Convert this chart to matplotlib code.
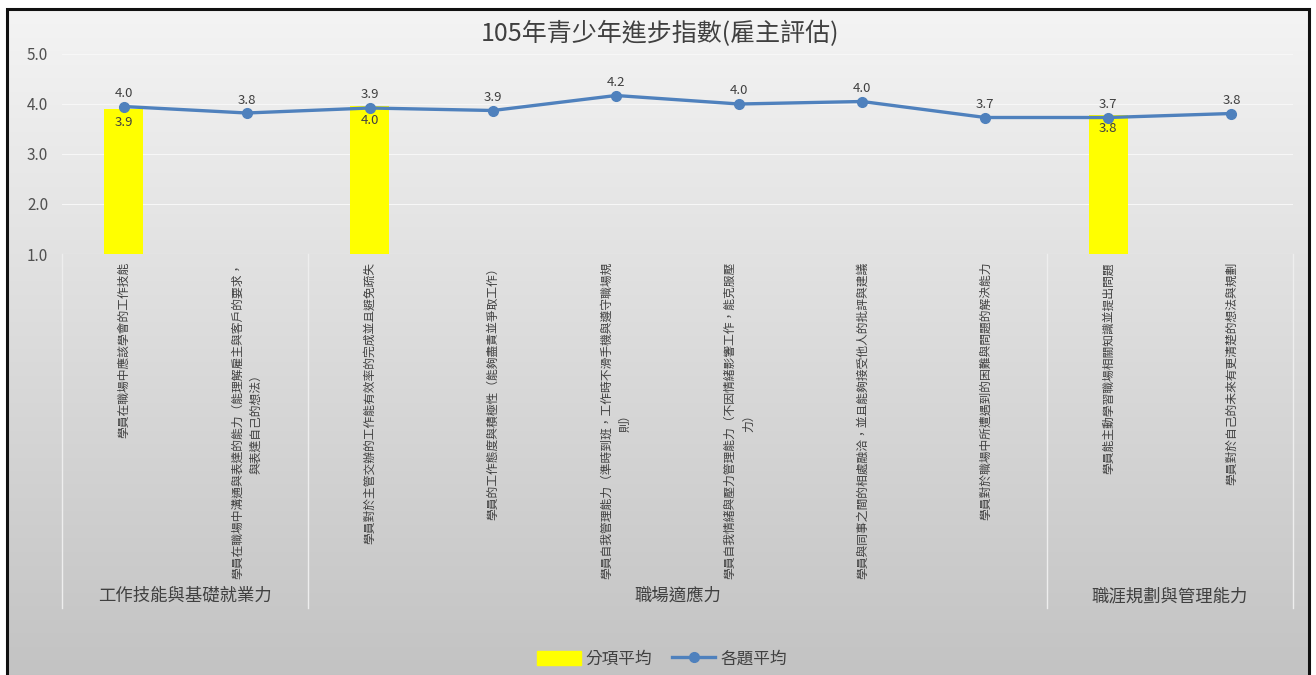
import matplotlib
matplotlib.use("Agg")
import matplotlib.pyplot as plt
import numpy as np
from matplotlib.patches import Rectangle
from matplotlib.lines import Line2D
from matplotlib.patches import Patch

plt.rcParams['font.family'] = ['Noto Sans CJK TC', 'DejaVu Sans']

# data
title = '105年青少年進步指數(雇主評估)'
items = [
    '學員在職場中應該學會的工作技能',
    '學員在職場中溝通與表達的能力（能理解雇主與客戶的要求，\n與表達自己的想法）',
    '學員對於主管交辦的工作能有效率的完成並且避免疏失',
    '學員的工作態度與積極性（能夠盡責並爭取工作）',
    '學員自我管理能力（準時到班，工作時不滑手機與遵守職場規\n則）',
    '學員自我情緒與壓力管理能力（不因情緒影響工作，能克服壓\n力）',
    '學員與同事之間的相處融洽，並且能夠接受他人的批評與建議',
    '學員對於職場中所遭遇到的困難與問題的解決能力',
    '學員能主動學習職場相關知識並提出問題',
    '學員對於自己的未來有更清楚的想法與規劃',
]
groups = ['工作技能與基礎就業力', '職場適應力', '職涯規劃與管理能力']
group_sizes = [2, 6, 2]
item_avg = [3.95, 3.82, 3.92, 3.87, 4.17, 4.00, 4.05, 3.73, 3.73, 3.81]
bar_pos = [0, 2, 8]
section_avg = [3.90, 3.96, 3.78]

fig = plt.figure(figsize=(13.16, 6.75), dpi=100)
W, H = 1316, 675

# chart box with grey gradient (runs past the bottom edge like the screenshot)
bg = fig.add_axes([7 / W, -0.02, (1309 - 7) / W, 1.02 - 9 / H])
grad = np.linspace(0, 1, 256).reshape(-1, 1)
cmap = matplotlib.colors.LinearSegmentedColormap.from_list('g', ['#f4f4f4', '#c2c2c2'])
bg.imshow(grad, aspect='auto', cmap=cmap, extent=[0, 1, 0, 1], origin='upper')
bg.set_xlim(0, 1)
bg.set_ylim(0, 1)
bg.axis('off')
bg.add_patch(Rectangle((0, 0), 1, 1, transform=bg.transAxes, fill=False, edgecolor='#111111', lw=2.2, clip_on=False))

ax = fig.add_axes([62 / W, 1 - 254 / H, (1293 - 62) / W, (254 - 54) / H])
ax.set_facecolor('none')

x = np.arange(len(items))
ax.bar(bar_pos, [v - 1 for v in section_avg], bottom=1, width=0.32, color='#ffff00', zorder=2)
for bx, v in zip(bar_pos, section_avg):
    ax.text(bx, v - 0.15, f'{v:.1f}', ha='center', va='top', fontsize=9.5, color='#404040', zorder=4)

ax.plot(x, item_avg, color='#4f81bd', lw=2.4, marker='o', ms=7, zorder=3)
for xi, v in zip(x, item_avg):
    ax.text(xi, v + 0.13, f'{v:.1f}', ha='center', va='bottom', fontsize=9.5, color='#404040', zorder=4)

ax.set_xlim(-0.5, len(items) - 0.5)
ax.set_ylim(1, 5)
ax.set_yticks([1, 2, 3, 4, 5])
ax.set_yticklabels([f'{t:.1f}' for t in [1, 2, 3, 4, 5]])
ax.tick_params(axis='y', length=0, labelsize=11, labelcolor='#505050', pad=10)
ax.set_xticks([])
ax.grid(axis='y', color='#f7f7f7', lw=0.8, zorder=0)
for s in ax.spines.values():
    s.set_visible(False)

# category labels
trans = matplotlib.transforms.blended_transform_factory(ax.transData, ax.transAxes)
for xi, lab in zip(x, items):
    ax.text(xi, -0.04, lab, rotation=90, ha='center', va='top', multialignment='center',
            fontsize=8.5, color='#404040', linespacing=1.6, transform=trans)

# group labels and dividers
bounds = np.concatenate([[0], np.cumsum(group_sizes)]) - 0.5
for b in bounds:
    ax.plot([b, b], [0, -1.77], color='#eeeeee', lw=1, transform=trans, clip_on=False)
for g, lo, hi in zip(groups, bounds[:-1], bounds[1:]):
    ax.text((lo + hi) / 2, -1.71, g, ha='center', va='center', fontsize=12.5, color='#404040', transform=trans)

fig.text(660 / W, 1 - 34 / H, title, ha='center', va='center', fontsize=18, color='#404040')

handles = [Patch(color='#ffff00'), Line2D([], [], color='#4f81bd', lw=2.4, marker='o', ms=7)]
fig.legend(handles, ['分項平均', '各題平均'], loc='center', bbox_to_anchor=(662 / W, 1 - 659 / H), ncol=2,
           frameon=False, fontsize=12, labelcolor='#404040', handlelength=2.6, columnspacing=1.2,
           handletextpad=0.3, handleheight=0.9)

fig.savefig('out.png', dpi=100, facecolor='white')
